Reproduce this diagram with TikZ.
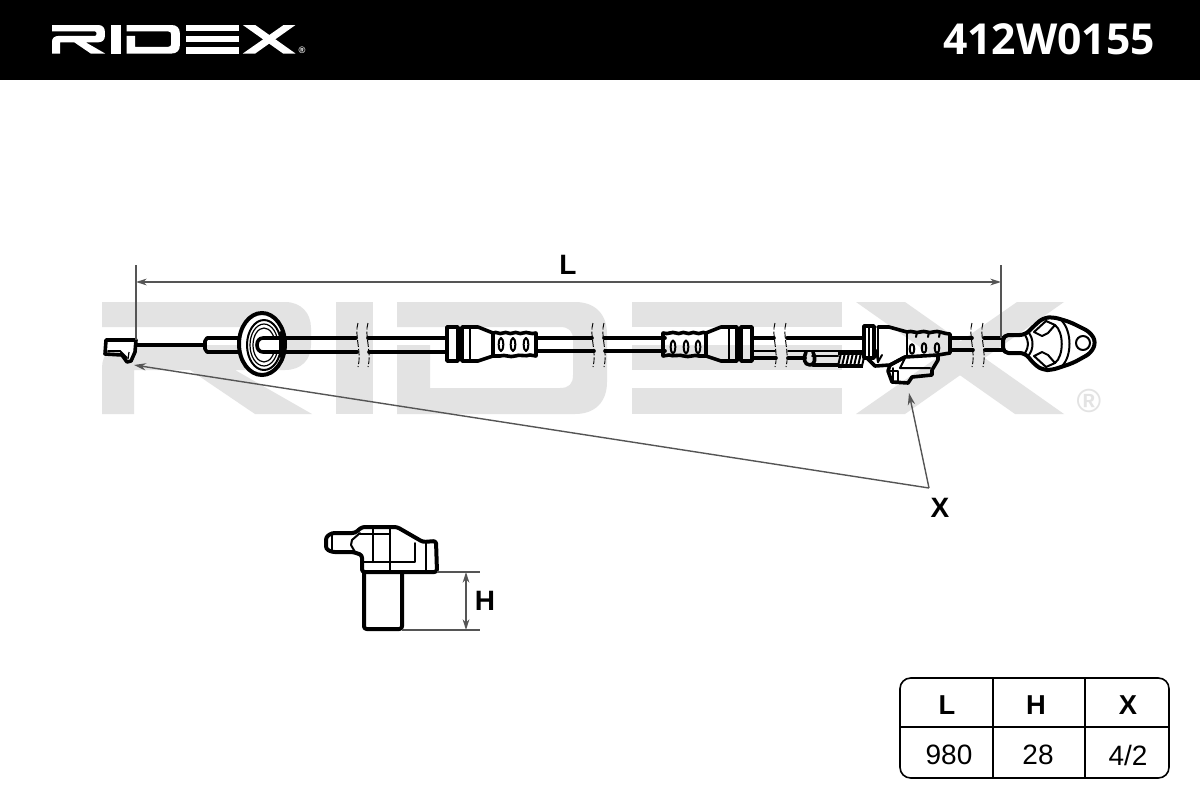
\documentclass[tikz,border=0pt]{standalone}
\usepackage{fontspec}
\setmainfont{Liberation Sans}
\newfontfamily\headfont{Open Sans}
\usetikzlibrary{arrows.meta}
\definecolor{wm}{HTML}{E3E3E3}
\definecolor{dimc}{HTML}{555555}
\newcommand{\ridexshapes}{%
 \fill (102,302) -- (285,302) .. controls (301,302) and (311,313) .. (311,328) -- (311,345) .. controls (311,360) and (301,370) .. (285,370) -- (235,370) -- (312,414) -- (255,414) -- (190,370) -- (134,370) -- (134,414) -- (102,414) -- (102,368) .. controls (102,353) and (112,345) .. (128,345) -- (272,345) .. controls (280,345) and (280,327) .. (272,327) -- (102,327) -- cycle;
 \fill (336,302) rectangle (373,414);
 \fill (397,302) -- (575,302) .. controls (595,302) and (607,314) .. (607,334) -- (607,382) .. controls (607,402) and (595,414) .. (575,414) -- (397,414) -- (397,345) -- (430,345) -- (430,388) -- (560,388) .. controls (569,388) and (573,384) .. (573,375) -- (573,340) .. controls (573,331) and (569,327) .. (560,327) -- (397,327) -- cycle;
 \fill (632,302) rectangle (842,327);
 \fill (632,345) rectangle (842,370);
 \fill (632,388) rectangle (842,414);
 \fill (856,302) -- (905,302) -- (1064,414) -- (1015,414) -- cycle;
 \fill (1017,302) -- (1064,302) -- (905,414) -- (856,414) -- cycle;
}
\tikzset{
 x=0.75pt,y=-0.75pt,
 heavy/.style={line width=2.7pt,line join=round,line cap=round},
 mid/.style={line width=1.5pt,line join=round,line cap=round},
 fine/.style={line width=0.9pt,line join=round},
 hair/.style={line width=0.7pt,dashed,dash pattern=on 5pt off 1.5pt},
 dimline/.style={line width=1.05pt,draw=dimc},
 dimarrow/.style={dimline,{Stealth[length=8pt,width=5pt]}-{Stealth[length=8pt,width=5pt]}},
 onearrow/.style={dimline,-{Stealth[length=9pt,width=5.5pt]}},
 biglabel/.style={inner sep=0pt,font=\fontsize{21}{24}\selectfont\bfseries,text=black},
 cellhead/.style={inner sep=0pt,font=\fontsize{20.5}{24}\selectfont\bfseries},
 cellval/.style={inner sep=0pt,font=\fontsize{21}{24}\selectfont},
}
% connector with ribbed sleeve: flange on left, sleeve on right
\newcommand{\connector}[1]{%
 \draw[heavy] (447,327) rectangle (458,361);
 \draw[heavy] (462,327) -- (478,327) -- (493,333) -- (493,356) -- (478,361) -- (462,361) -- cycle;
 \draw[mid] (470,327) -- (470,361);
 \draw[heavy] (493,333) .. controls (497,331) and (499,335) .. (503,333) .. controls (507,331) and (509,335) .. (513,333) .. controls (517,331) and (519,335) .. (523,333) .. controls (527,331) and (531,335) .. (536,333) -- (536,356) -- (530,355) .. controls (525,357) and (520,354) .. (515,356) .. controls (510,358) and (505,354) .. (500,356) -- (493,356);
 \foreach \ox in {501,513,526} \draw[mid] (\ox,#1) ellipse [x radius=2.3,y radius=6.5];
}
\begin{document}
\begin{tikzpicture}
\useasboundingbox (0,0) rectangle (1200,800);
\fill[white] (0,0) rectangle (1200,800);
% watermark
\begin{scope}[wm]\ridexshapes\end{scope}
\node[inner sep=0pt,text=wm,font=\fontsize{25}{25}\selectfont\bfseries] (wmreg) at (1089,401) {®};
% header
\fill[black] (0,0) rectangle (1200,80);
\begin{scope}[white,shift={(52,25)},xscale=.2531,yscale=.2545,shift={(-102,-302)}]\ridexshapes\end{scope}
\node[inner sep=0pt,text=white,font=\fontsize{7}{7}\selectfont\bfseries] (logoreg) at (302,50) {®};
\node[inner sep=0pt,text=white,font=\headfont\fontsize{32}{34}\selectfont\bfseries] (partno) at (1049,39) {412W0155};

% left sensor tip
\coordinate (tipR) at (136,345);
\coordinate (sleeveL) at (205,345);
\draw[line width=3.2pt] (tipR) -- (sleeveL);
\draw[heavy,fill=white] (136,340) -- (106,340) -- (105,354) -- (122,355) -- (127,362) -- (131,361) -- (135,352) -- cycle;
\draw[mid] (108,351) -- (120,351) -- (127,358);
\draw[fine] (129,352) -- (128,359);
% sleeve before grommet
\draw[heavy] (240,338) -- (207,338) -- (205,341) -- (205,349) -- (207,352) -- (240,352);
% grommet
\draw[line width=3pt,fill=white] (262,344) ellipse [x radius=23,y radius=31];
\draw[mid] (264,345) ellipse [x radius=17,y radius=25];
\draw[fine] (264,345) ellipse [x radius=14,y radius=21];
\draw[fine] (264,345) ellipse [x radius=11,y radius=17];
\draw[heavy,fill=white] (281,338) -- (263,338) .. controls (255,338) and (255,352) .. (263,352) -- (281,352);
\draw[heavy] (281,333) -- (281,356);
% cable runs
\draw[heavy] (285,338) -- (356,338) (285,352) -- (357,352);
\draw[heavy] (368,338) -- (447,338) (369,352) -- (447,352);
\draw[heavy] (536,338) -- (592,338) (536,351) -- (594,351);
\draw[heavy] (604,338) -- (665,338) (605,351) -- (665,351);
\draw[heavy] (752,338) -- (774,338) (752,358) -- (776,358);
\draw[mid] (752,351) -- (775,351);
\draw[heavy] (787,338) -- (863,338) (788,358) -- (805,358);
\draw[mid] (788,351) -- (863,351);
\draw[heavy] (950,338) -- (972,338) (950,350) -- (973,350);
\draw[heavy] (984,338) -- (1003,338) (985,350) -- (1003,350);
% break marks
\foreach \bx in {358,368,593,604,775,786,972,983}{
 \draw[hair] (\bx,323) .. controls (\bx-4,335) and (\bx+4,352) .. (\bx,367);
}
% connector 1 and 2
\connector{344.5}
\begin{scope}[xshift=899.25pt,xscale=-1]
\connector{347}
\end{scope}
% tube and spring
\draw[heavy] (806,352) .. controls (803,358) and (804,365) .. (810,365) .. controls (815,365) and (816,358) .. (813,352);
\draw[heavy] (813,365) -- (838,365);
\draw[mid] (812,356) -- (838,356);
\draw[line width=3pt] (838,353) -- (863,353) (838,366) -- (863,366);
\foreach \sx in {838,842,...,862} \draw[mid] (\sx,366) -- (\sx+3,353);
% connector 3
\draw[heavy] (864,326) rectangle (874,358);
\draw[mid] (869,326) -- (869,358);
\draw[heavy] (878,327) -- (889,327) -- (907,332) .. controls (912,330) and (916,334) .. (920,332) .. controls (925,330) and (929,334) .. (933,332) .. controls (938,330) and (944,334) .. (950,334) -- (950,353) -- (938,355) -- (905,357) -- (890,365) -- (875,366) -- (867,358);
\draw[mid] (878,327) -- (878,362);
\draw[mid] (907,332) -- (907,357);
\draw[mid] (876,350) -- (878,362) -- (882,355);
\draw[heavy] (905,357) -- (890,365) -- (888,371) -- (892,382) -- (908,383) -- (912,377) -- (932,375) -- (932,370) -- (938,360) -- (938,355);
\draw[mid] (893,368) -- (893,381) (888,371) -- (898,371) -- (898,381);
\draw[mid] (905,358) -- (900,368) -- (930,368);
\foreach \ox/\oy in {912/349,924/348,937/348} \draw[mid] (\ox,\oy) ellipse [x radius=2.3,y radius=5];
\foreach \ox in {917,929,940} \draw[mid] (\ox,332) -- (\ox-1,337);
% eyelet
\draw[line width=3pt,line join=round,rounded corners=4pt] (1003,335) -- (1025,335) -- (1035,325) -- (1043,318) -- (1053,317) -- (1070,322) -- (1090,332) -- (1096,342) -- (1091,353) -- (1073,363) -- (1052,370) -- (1043,370) -- (1035,365) -- (1025,353) -- (1003,353) -- cycle;
\draw[mid] (1083,343) circle (7);
\draw[mid] (1025,335) .. controls (1029,342) and (1029,346) .. (1025,353);
\draw[mid] (1028,332) .. controls (1034,338) and (1034,350) .. (1028,356);
\draw[mid] (1034,332) -- (1046,321) -- (1055,325) -- (1048,333) -- (1042,336) -- cycle;
\draw[mid] (1034,356) -- (1046,367) -- (1055,363) -- (1048,355) -- (1042,352) -- cycle;
\draw[mid] (1055,325) .. controls (1064,332) and (1064,356) .. (1055,363);
\draw[mid] (1062,321) .. controls (1072,332) and (1072,356) .. (1062,366);
% dimension L
\coordinate (Lext1t) at (136,265);
\coordinate (Lext1b) at (136,340);
\coordinate (Lext2t) at (1001,265);
\coordinate (Lext2b) at (1001,338);
\coordinate (La) at (136,282);
\coordinate (Lb) at (1001,282);
\draw[dimline] (Lext1t) -- (Lext1b);
\draw[dimline] (Lext2t) -- (Lext2b);
\draw[dimarrow] (La) -- (Lb);
\node[biglabel] (Ltxt) at (568,265) {L};
% X arrows
\node[biglabel] (Xtxt) at (940,508) {X};
\coordinate (Xjoin) at (929,488);
\coordinate (Xa) at (134,365);
\coordinate (Xb) at (909,393);
\draw[onearrow] (Xjoin) -- (Xa);
\draw[onearrow] (Xjoin) -- (Xb);
% small sensor view
\draw[line width=3pt,line join=round,rounded corners=2pt] (326,537) -- (332,533) -- (355,533) -- (362,527) -- (397,527) -- (423,542) -- (436,541) -- (437,572) -- (362,572) -- (362,555) -- (353,552) -- (332,552) -- (326,549) -- cycle;
\draw[line width=3pt,line join=round,rounded corners=2pt] (364,572) -- (364,629) -- (402,629) -- (402,572);
\draw[mid] (332,535) -- (332,551);
\draw[mid] (360,533) -- (352,540) -- (351,545) -- (355,552);
\draw[mid] (373,528) -- (373,562) (390,528) -- (390,572) (362,562) -- (415,562) -- (415,543) (426,542) -- (426,572) (360,534) -- (390,534);
\coordinate (H1a) at (437,572);
\coordinate (H1b) at (480,572);
\coordinate (H2a) at (402,630);
\coordinate (H2b) at (480,630);
\coordinate (Hu) at (466,572);
\coordinate (Hd) at (466,630);
\draw[dimline] (H1a) -- (H1b);
\draw[dimline] (H2a) -- (H2b);
\draw[dimarrow] (Hu) -- (Hd);
\node[biglabel] (Htxt) at (485,601) {H};
% table
\draw[line width=1.2pt,rounded corners=8pt] (900,678) rectangle (1169,778);
\draw[line width=1.2pt] (900,727) -- (1169,727) (993,678) -- (993,778) (1085,678) -- (1085,778);
\node[cellhead] (th1) at (947,705) {L};
\node[cellhead] (th2) at (1036,705) {H};
\node[cellhead] (th3) at (1128,705) {X};
\node[cellval] (td1) at (949,755) {980};
\node[cellval] (td2) at (1038,755) {28};
\node[cellval] (td3) at (1128,755) {4/2};
\end{tikzpicture}
\end{document}
